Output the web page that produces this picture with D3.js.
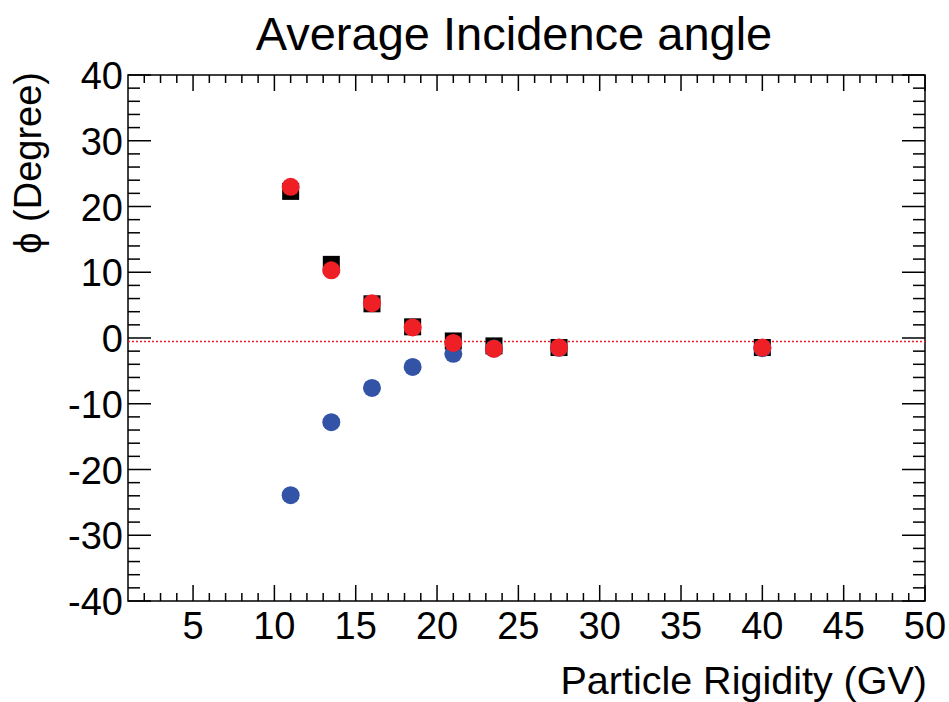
<!DOCTYPE html>
<html>
<head>
<meta charset="utf-8">
<script src="https://cdn.jsdelivr.net/npm/d3@7"></script>
<style>
  body { margin: 0; background: #fff; }
  text { font-family: "Liberation Sans", Arial, sans-serif; fill: #000; }
</style>
</head>
<body>
<div id="graph"></div>
<script>
// chart values
const rigidity = [11, 13.5, 16, 18.5, 21, 23.5, 27.5, 40];
const phiBlack = [22.3, 11.2, 5.2, 1.7, -0.45, -1.2, -1.45, -1.45];
const phiBlue = [-23.9, -12.8, -7.6, -4.4, -2.4, -1.6, -1.5, -1.55];
const phiRed = [23.0, 10.3, 5.3, 1.6, -0.75, -1.65, -1.45, -1.45];
const refLine = -0.55;
const xTicks = [5, 10, 15, 20, 25, 30, 35, 40, 45, 50];
const yTicks = [-40, -30, -20, -10, 0, 10, 20, 30, 40];

const width = 949, height = 702;
const margin = {top: 75, right: 24, bottom: 101, left: 128};

let svg = d3.select("#graph")
    .append("svg")
    .attr("width", width)
    .attr("height", height);

let x = d3.scaleLinear()
    .domain([1, 50])
    .range([margin.left, width - margin.right]);

let y = d3.scaleLinear()
    .domain([-40, 40])
    .range([height - margin.bottom, margin.top]);

const x0 = x.range()[0], x1 = x.range()[1];
const y0 = y.range()[0], y1 = y.range()[1];

// minor ticks
let xMinor = d3.range(2, 51, 1).filter(d => d % 5 != 0);
let yMinor = d3.range(-38, 40, 2).filter(d => d % 10 != 0);

let ticks = svg.append("g").attr("stroke", "#000").attr("stroke-width", 1.5);

function tickLines(data, fn) {
    ticks.append("g").selectAll("line").data(data).enter()
        .append("line")
        .attr("x1", d => fn(d)[0])
        .attr("y1", d => fn(d)[1])
        .attr("x2", d => fn(d)[2])
        .attr("y2", d => fn(d)[3]);
}

// bottom + top
tickLines(xTicks, d => [x(d), y0, x(d), y0 - 16]);
tickLines(xMinor, d => [x(d), y0, x(d), y0 - 8]);
tickLines(xTicks, d => [x(d), y1, x(d), y1 + 16]);
tickLines(xMinor, d => [x(d), y1, x(d), y1 + 8]);
// left + right
tickLines(yTicks, d => [x0, y(d), x0 + 23, y(d)]);
tickLines(yMinor, d => [x0, y(d), x0 + 12, y(d)]);
tickLines(yTicks, d => [x1, y(d), x1 - 23, y(d)]);
tickLines(yMinor, d => [x1, y(d), x1 - 12, y(d)]);

// frame
svg.append("rect")
    .attr("x", x0).attr("y", y1)
    .attr("width", x1 - x0).attr("height", y0 - y1)
    .attr("fill", "none")
    .attr("stroke", "#000")
    .attr("stroke-width", 1.5);

// tick labels
svg.append("g").selectAll("text").data(xTicks).enter()
    .append("text")
    .attr("x", d => x(d))
    .attr("y", y0 + 38)
    .style("text-anchor", "middle")
    .style("font-size", "38px")
    .text(d => d);

svg.append("g").selectAll("text").data(yTicks).enter()
    .append("text")
    .attr("x", x0 - 5)
    .attr("y", d => y(d) + 14)
    .style("text-anchor", "end")
    .style("font-size", "38px")
    .text(d => d);

// reference line
svg.append("line")
    .attr("x1", x0).attr("x2", x1)
    .attr("y1", y(refLine)).attr("y2", y(refLine))
    .attr("stroke", "#f01c24")
    .attr("stroke-width", 1.5)
    .attr("stroke-dasharray", "2,2");

// markers: black squares, then blue, then red
const sq = 17;
svg.append("g").selectAll("rect").data(rigidity).enter()
    .append("rect")
    .attr("x", (d, i) => x(d) - sq / 2)
    .attr("y", (d, i) => y(phiBlack[i]) - sq / 2)
    .attr("width", sq).attr("height", sq)
    .attr("fill", "#000");

svg.append("g").selectAll("circle").data(rigidity).enter()
    .append("circle")
    .attr("cx", d => x(d))
    .attr("cy", (d, i) => y(phiBlue[i]))
    .attr("r", 9)
    .attr("fill", "#3253a6");

svg.append("g").selectAll("circle").data(rigidity).enter()
    .append("circle")
    .attr("cx", d => x(d))
    .attr("cy", (d, i) => y(phiRed[i]))
    .attr("r", 9)
    .attr("fill", "#ee2026");

// titles
svg.append("text")
    .attr("x", 514)
    .attr("y", 50)
    .style("text-anchor", "middle")
    .style("font-size", "47px")
    .text("Average Incidence angle");

svg.append("text")
    .attr("x", x1 + 2)
    .attr("y", 694)
    .style("text-anchor", "end")
    .style("font-size", "39.5px")
    .text("Particle Rigidity (GV)");

svg.append("text")
    .attr("transform", `translate(41, ${y1 - 3}) rotate(-90)`)
    .style("text-anchor", "end")
    .style("font-size", "38px")
    .text("\u03d5 (Degree)");
</script>
</body>
</html>
